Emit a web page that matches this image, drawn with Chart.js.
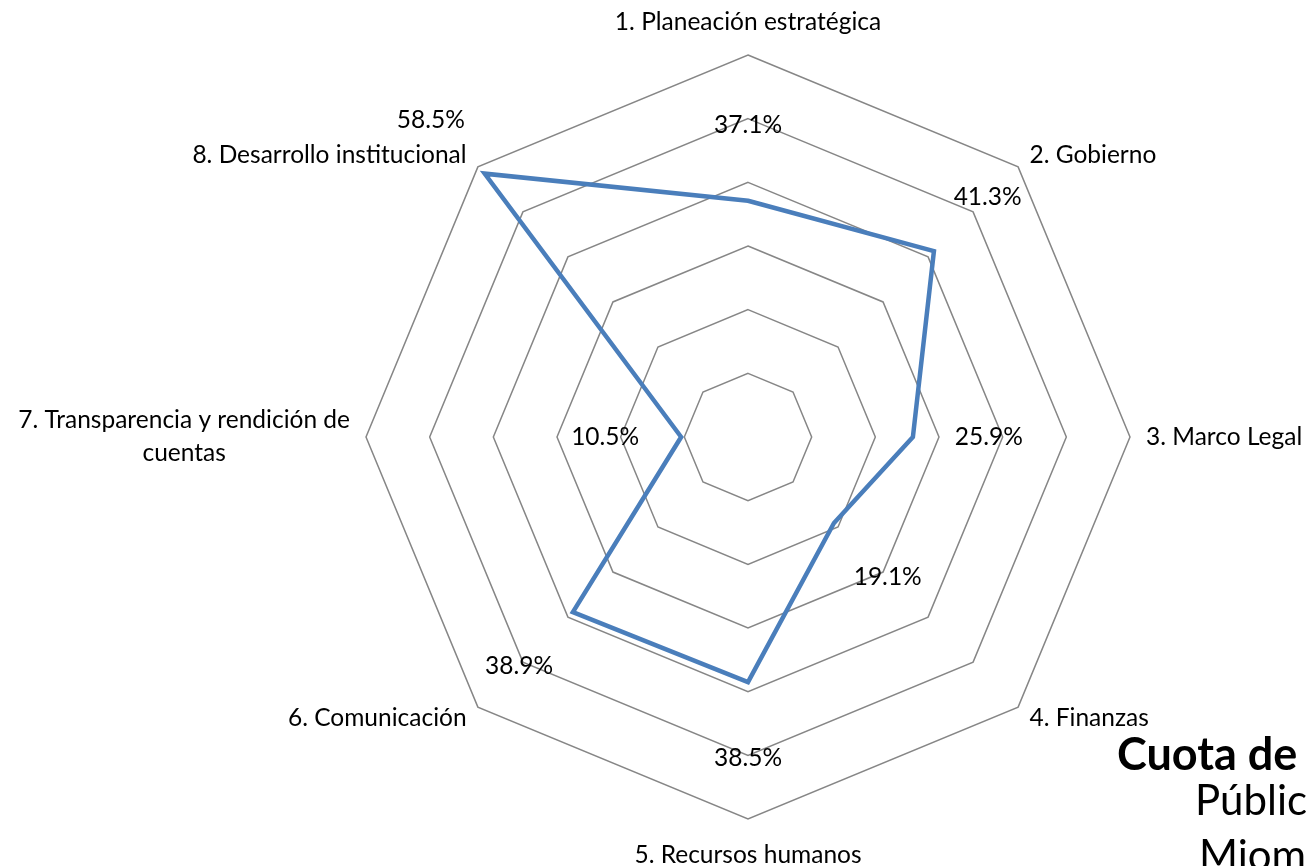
<!DOCTYPE html>
<html>
<head>
<meta charset="utf-8">
<script src="https://cdn.jsdelivr.net/npm/chart.js@4"></script>
<style>
  html, body { margin: 0; padding: 0; background: #fff; overflow: hidden; }
  #wrap { position: relative; width: 1307px; height: 866px; overflow: hidden; }
  .side { position: absolute; font-family: Lato, sans-serif; color: #000; white-space: nowrap; line-height: 1; }
</style>
</head>
<body>
<div id="wrap">
  <canvas id="radar" width="1307" height="866"></canvas>
  <div class="side" style="left:1117px; top:731px; font-size:45px; font-weight:bold;">Cuota de</div>
  <div class="side" style="left:1195px; top:778px; font-size:42px;">Públic</div>
  <div class="side" style="left:1199px; top:833px; font-size:42px;">Miom</div>
</div>
<script>
// ===============================
//  DATOS
// ===============================
const categorias = [
  "1. Planeación estratégica",
  "2. Gobierno",
  "3. Marco Legal",
  "4. Finanzas",
  "5. Recursos humanos",
  "6. Comunicación",
  ["7. Transparencia y rendición de", "cuentas"],
  "8. Desarrollo institucional"
];
const valores = [37.1, 41.3, 25.9, 19.1, 38.5, 38.9, 10.5, 58.5];
const escalaMax = 60;
const escalaPaso = 10;

const FONT = "Lato, sans-serif";

// ===============================
//  ETIQUETAS (categorías y valores)
// ===============================
const etiquetasPlugin = {
  id: "etiquetas",
  afterDatasetsDraw(chart) {
    const scale = chart.scales.r;
    const ctx = chart.ctx;
    const r = scale.drawingArea;
    ctx.save();
    ctx.fillStyle = "#000";
    ctx.font = "24.5px " + FONT;

    // valores
    ctx.textAlign = "center";
    ctx.textBaseline = "middle";
    valores.forEach((v, i) => {
      const d = scale.getDistanceFromCenterForValue(v) + 76;
      const p = scale.getPointPosition(i, d);
      ctx.fillText(v.toFixed(1) + "%", p.x, p.y);
    });

    // categorías
    categorias.forEach((lab, i) => {
      const lines = Array.isArray(lab) ? lab : [lab];
      let p = scale.getPointPosition(i, r + 16);
      let align = "center";
      if (p.x > scale.xCenter + 1) align = "left";
      else if (p.x < scale.xCenter - 1) align = "right";
      if (i === 0) p = scale.getPointPosition(i, r + 33);
      if (i === 4) p = scale.getPointPosition(i, r + 36);
      ctx.textBaseline = "middle";
      const lh = 33;
      if (lines.length > 1) {
        let w = 0;
        lines.forEach(l => { w = Math.max(w, ctx.measureText(l).width); });
        const cx = align === "right" ? p.x - w / 2 : p.x + w / 2;
        ctx.textAlign = "center";
        lines.forEach((l, k) => {
          ctx.fillText(l, cx, p.y - lh / 2 + k * lh);
        });
      } else {
        ctx.textAlign = align;
        ctx.fillText(lines[0], p.x, p.y);
      }
    });
    ctx.restore();
  }
};

// ===============================
//  GRÁFICO
// ===============================
new Chart(document.getElementById("radar"), {
  type: "radar",
  data: {
    labels: categorias,
    datasets: [{
      data: valores,
      borderColor: "#4A7EBB",
      borderWidth: 4.5,
      backgroundColor: "rgba(0,0,0,0)",
      fill: false,
      pointRadius: 0,
      pointHoverRadius: 0,
      tension: 0
    }]
  },
  options: {
    responsive: false,
    animation: false,
    events: [],
    layout: { padding: { left: 189, right: 0, top: 55, bottom: 47 } },
    plugins: {
      legend: { display: false },
      tooltip: { enabled: false }
    },
    scales: {
      r: {
        min: 0,
        max: escalaMax,
        ticks: { stepSize: escalaPaso, display: false },
        angleLines: { display: false },
        grid: { color: "#868686", lineWidth: 1.5 },
        pointLabels: { display: false }
      }
    }
  },
  plugins: [etiquetasPlugin]
});
</script>
</body>
</html>
